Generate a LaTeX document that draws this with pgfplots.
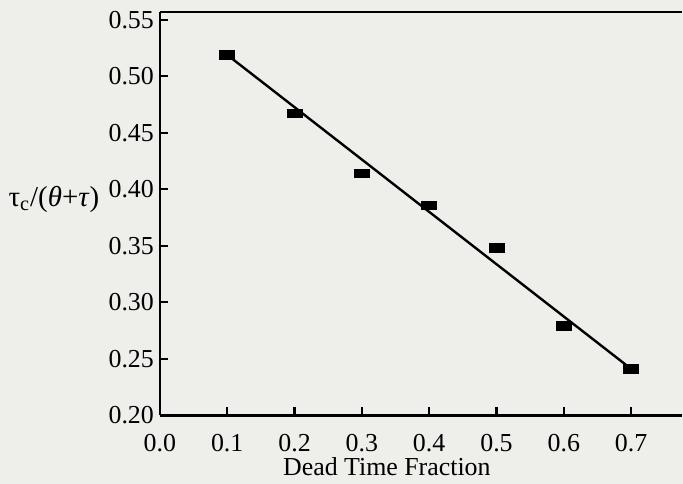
\documentclass[border=0pt]{standalone}
\usepackage{fontspec}
\setmainfont{Liberation Serif}
\usepackage{pgfplots}
\pgfplotsset{compat=1.18}
\usetikzlibrary{backgrounds}
\definecolor{bgcol}{HTML}{EEEEEB}

\begin{document}
\fontsize{13}{15.6}\selectfont
\begin{tikzpicture}[show background rectangle, inner frame sep=0pt,
  background rectangle/.style={fill=bgcol, draw=none}]
\begin{axis}[
  scale only axis, width=262pt, height=202.5pt,
  xmin=0, xmax=0.775, ymin=0.2, ymax=0.557,
  axis lines=left, axis line style={-, line width=1.4pt},
  clip=false,
  xtick={0,0.1,0.2,0.3,0.4,0.5,0.6,0.7},
  ytick={0.2,0.25,0.3,0.35,0.4,0.45,0.5,0.55},
  tick align=inside, major tick length=4pt,
  tick style={line width=1.1pt, black},
  xticklabel style={yshift=-5pt, /pgf/number format/.cd, fixed, fixed zerofill, precision=1, assume math mode=true},
  yticklabel style={xshift=1.5pt, /pgf/number format/.cd, fixed, fixed zerofill, precision=2, assume math mode=true},
  xlabel={Dead Time Fraction},
  ylabel={τ\textsubscript{c}/(\textit{θ}+\textit{τ})},
  every axis x label/.style={at={(rel axis cs:0.435,0)}, anchor=north, yshift=-16.5pt},
  every axis y label/.style={at={(rel axis cs:0,0.535)}, anchor=east, xshift=-26pt,
    font=\fontsize{14.5}{17}\selectfont},
]
\addplot[black, line width=1.2pt] coordinates {(0.1,0.519) (0.7,0.241)};
\addplot[only marks, mark=square*, mark size=2.1pt, mark options={xscale=1.8, fill=black, draw=black}]
  coordinates {(0.1,0.519) (0.2,0.467) (0.3,0.414) (0.4,0.386) (0.5,0.348) (0.6,0.279) (0.7,0.241)};
\draw[line width=1.4pt] (rel axis cs:0,1) -- (rel axis cs:1,1);
\coordinate (tl) at (rel axis cs:0,1);
\coordinate (bl) at (rel axis cs:0,0);
\end{axis}
\path (tl) ++(-79.5pt,6pt);
\path (bl) ++(0,-33pt);
\end{tikzpicture}
\end{document}
